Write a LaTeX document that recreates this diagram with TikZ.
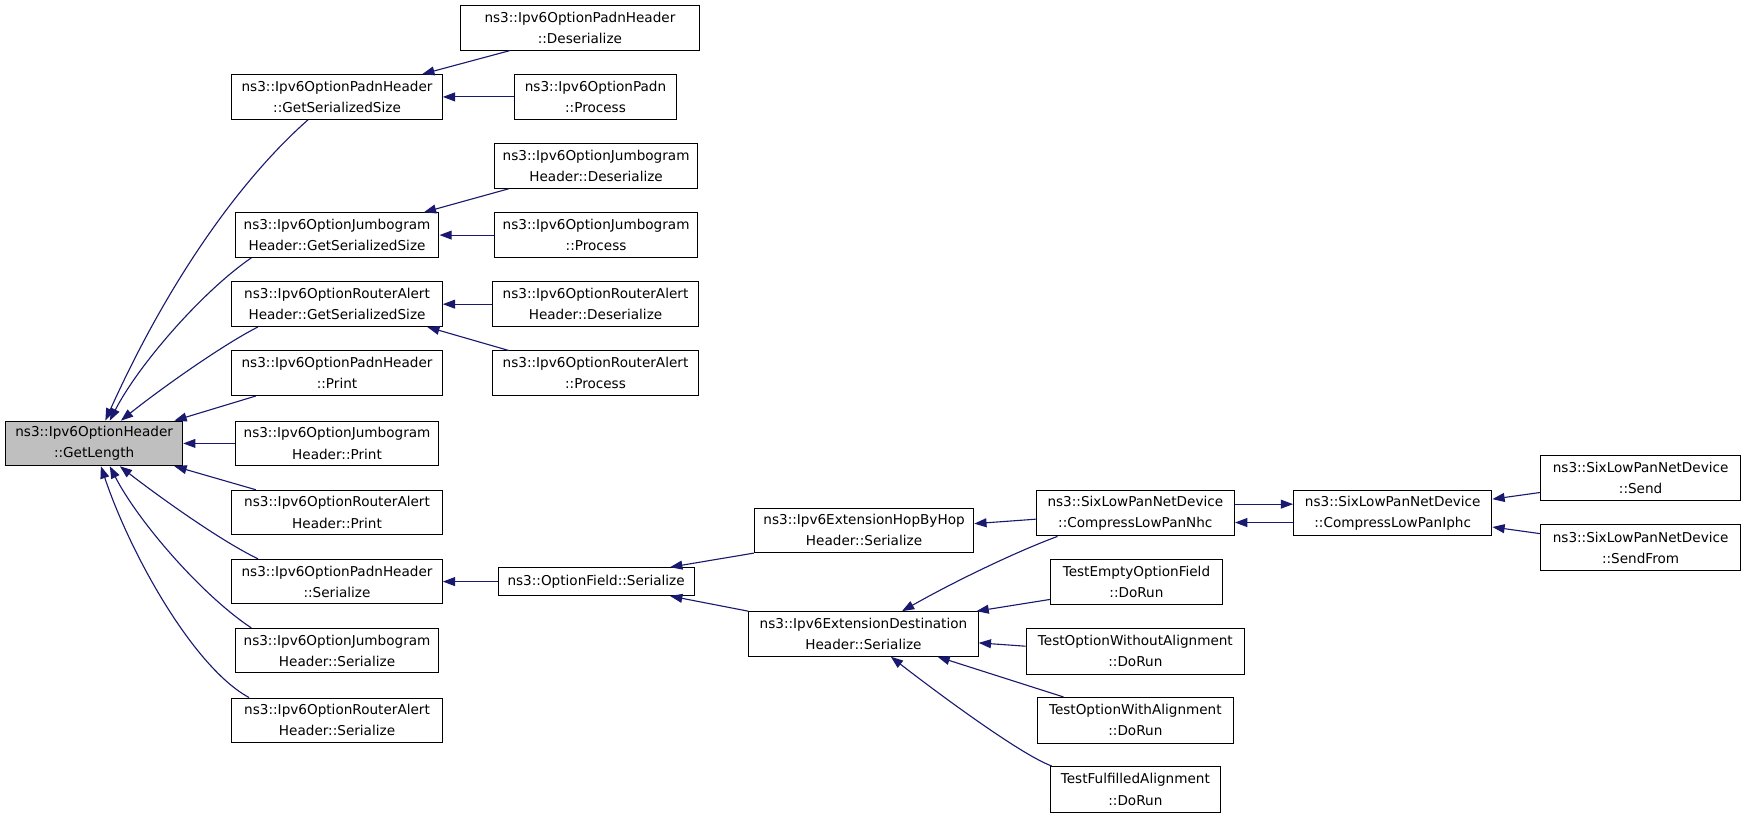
\documentclass[tikz,border=0pt]{standalone}
\usepackage{fontspec}
\setmainfont{DejaVu Sans}
\usetikzlibrary{arrows.meta}
\definecolor{edgeblue}{HTML}{191970}
\definecolor{hlgray}{HTML}{BFBFBF}
\begin{document}
\begin{tikzpicture}[x=1pt,y=-1pt,
  box/.style={draw=black, line width=0.9pt, inner sep=0pt, align=center,
    font=\fontsize{12.2}{19}\selectfont, minimum height=40pt},
  edge/.style={draw=edgeblue, line width=1pt, -{Triangle[length=11pt,width=8pt]}}]
\fill[white] (0,0) rectangle (1568,735);
\useasboundingbox (0,0) rectangle (1568,735);
% nodes
\node[box, fill=hlgray, minimum width=159pt] (GL) at (84.5,398) {ns3::Ipv6OptionHeader\\::GetLength};
\node[box, minimum width=189pt] (PadnGSS) at (302.5,87) {ns3::Ipv6OptionPadnHeader\\::GetSerializedSize};
\node[box, minimum width=215pt] (PadnDes) at (520.5,25) {ns3::Ipv6OptionPadnHeader\\::Deserialize};
\node[box, minimum width=145pt] (PadnProc) at (534.5,87) {ns3::Ipv6OptionPadn\\::Process};
\node[box, minimum width=182pt] (JumDes) at (535,149) {ns3::Ipv6OptionJumbogram\\Header::Deserialize};
\node[box, minimum width=183pt] (JumGSS) at (302.5,211) {ns3::Ipv6OptionJumbogram\\Header::GetSerializedSize};
\node[box, minimum width=182pt] (JumProc) at (535,211) {ns3::Ipv6OptionJumbogram\\::Process};
\node[box, minimum width=189pt] (RAGSS) at (302.5,273) {ns3::Ipv6OptionRouterAlert\\Header::GetSerializedSize};
\node[box, minimum width=185pt] (RADes) at (534.5,273) {ns3::Ipv6OptionRouterAlert\\Header::Deserialize};
\node[box, minimum width=185pt] (RAProc) at (534.5,335) {ns3::Ipv6OptionRouterAlert\\::Process};
\node[box, minimum width=189pt] (PadnPrint) at (302.5,335) {ns3::Ipv6OptionPadnHeader\\::Print};
\node[box, minimum width=183pt] (JumPrint) at (302.5,398) {ns3::Ipv6OptionJumbogram\\Header::Print};
\node[box, minimum width=189pt] (RAPrint) at (302.5,460) {ns3::Ipv6OptionRouterAlert\\Header::Print};
\node[box, minimum width=189pt] (PadnSer) at (302.5,522) {ns3::Ipv6OptionPadnHeader\\::Serialize};
\node[box, minimum width=183pt] (JumSer) at (302.5,584) {ns3::Ipv6OptionJumbogram\\Header::Serialize};
\node[box, minimum width=189pt] (RASer) at (302.5,646.5) {ns3::Ipv6OptionRouterAlert\\Header::Serialize};
\node[box, minimum width=176pt, minimum height=25pt] (OF) at (535,522) {ns3::OptionField::Serialize};
\node[box, minimum width=197pt] (HBH) at (775.5,476) {ns3::Ipv6ExtensionHopByHop\\Header::Serialize};
\node[box, minimum width=206pt] (Dest) at (775,569) {ns3::Ipv6ExtensionDestination\\Header::Serialize};
\node[box, minimum width=178pt, minimum height=41pt] (Nhc) at (1019,460.5) {ns3::SixLowPanNetDevice\\::CompressLowPanNhc};
\node[box, minimum width=178pt, minimum height=41pt] (Iphc) at (1250,460.5) {ns3::SixLowPanNetDevice\\::CompressLowPanIphc};
\node[box, minimum width=179pt] (Send) at (1472.5,429) {ns3::SixLowPanNetDevice\\::Send};
\node[box, minimum width=179pt, minimum height=41pt] (SendFrom) at (1472.5,491.5) {ns3::SixLowPanNetDevice\\::SendFrom};
\node[box, minimum width=154pt, minimum height=41pt] (TEmpty) at (1020,522.5) {TestEmptyOptionField\\::DoRun};
\node[box, minimum width=196pt, minimum height=41pt] (TWithout) at (1019,584.5) {TestOptionWithoutAlignment\\::DoRun};
\node[box, minimum width=176pt, minimum height=41pt] (TWith) at (1019,646.5) {TestOptionWithAlignment\\::DoRun};
\node[box, minimum width=152pt, minimum height=41pt] (TFul) at (1019,708.5) {TestFulfilledAlignment\\::DoRun};
% edges, left group
\draw[edge] ([xshift=45pt]PadnDes.south west) -- ([xshift=-18.5pt]PadnGSS.north east);
\draw[edge] (PadnProc.west) -- (PadnGSS.east);
\draw[edge] ([xshift=13pt]JumDes.south west) -- ([xshift=-14pt]JumGSS.north east);
\draw[edge] (JumProc.west) -- (JumGSS.east);
\draw[edge] (RADes.west) -- (RAGSS.east);
\draw[edge] ([xshift=15pt]RAProc.north west) -- ([xshift=-14pt]RAGSS.south east);
% edges into GetLength
\draw[edge] ([xshift=69pt]PadnGSS.south west) .. controls (217,160) and (152,250) .. ([xshift=90pt]GL.north west);
\draw[edge] ([xshift=15pt]JumGSS.south west) .. controls (181,262) and (124,328) .. ([xshift=94pt]GL.north west);
\draw[edge] ([xshift=24pt]RAGSS.south west) .. controls (197,311) and (139,353) .. ([xshift=104pt]GL.north west);
\draw[edge] ([xshift=22pt]PadnPrint.south west) -- ([xshift=152pt]GL.north west);
\draw[edge] (JumPrint.west) -- (GL.east);
\draw[edge] ([xshift=22pt]RAPrint.north west) -- ([xshift=152pt]GL.south west);
\draw[edge] ([xshift=24pt]PadnSer.north west) .. controls (197,485) and (139,443) .. ([xshift=103pt]GL.south west);
\draw[edge] ([xshift=15pt]JumSer.north west) .. controls (181,534) and (124,468) .. ([xshift=94pt]GL.south west);
\draw[edge] ([xshift=16pt]RASer.north west) .. controls (175,600) and (118,500) .. ([xshift=86pt]GL.south west);
% middle
\draw[edge] (OF.west) -- (PadnSer.east);
\draw[edge] (HBH.south west) -- ([xshift=-22pt]OF.north east);
\draw[edge] (Dest.north west) -- ([xshift=-22pt]OF.south east);
\draw[edge] ([yshift=-5.5pt]Nhc.west) -- ([yshift=6pt]HBH.east);
\draw[edge] ([xshift=19.6pt]Nhc.south west) .. controls (915,494) and (860,520) .. ([xshift=138pt]Dest.north west);
\draw[edge] ([yshift=-15.5pt]TEmpty.west) -- ([xshift=-2pt]Dest.north east);
\draw[edge] ([yshift=4.5pt]TWithout.west) -- ([yshift=-8pt]Dest.east);
\draw[edge] ([xshift=24pt]TWith.north west) -- ([xshift=-37pt]Dest.south east);
\draw[edge] ([xshift=1.5pt]TFul.north west) .. controls (915,677) and (835,617) .. ([xshift=128pt]Dest.south west);
% right
\draw[edge] ([yshift=8pt]Nhc.east) -- ([yshift=8pt]Iphc.west);
\draw[edge] ([yshift=-8.5pt]Iphc.west) -- ([yshift=-8.5pt]Nhc.east);
\draw[edge] ([yshift=-13pt]Send.west) -- ([yshift=12.5pt]Iphc.east);
\draw[edge] ([yshift=12.5pt]SendFrom.west) -- ([yshift=-12.5pt]Iphc.east);
\end{tikzpicture}
\end{document}
